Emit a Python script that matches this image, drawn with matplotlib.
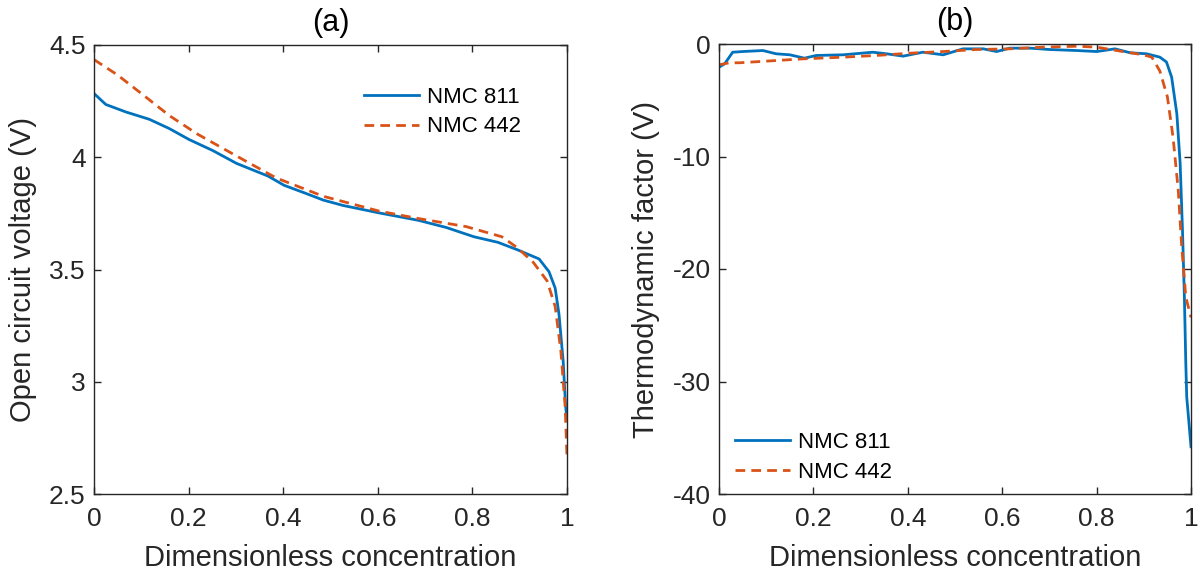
import matplotlib
matplotlib.use("Agg")
import matplotlib.pyplot as plt
import numpy as np

plt.rcParams['font.family'] = ['Liberation Sans', 'DejaVu Sans']

# Panel (a): open circuit voltage
x811_a = [0.0, 0.025, 0.067, 0.117, 0.159, 0.201, 0.251, 0.301, 0.368, 0.402, 0.444, 0.485, 0.527,
          0.603, 0.686, 0.745, 0.803, 0.854, 0.895, 0.941, 0.962, 0.975, 0.983, 0.992, 0.997, 1.0]
v811_a = [4.284, 4.235, 4.202, 4.169, 4.128, 4.079, 4.030, 3.973, 3.916, 3.875, 3.842, 3.809, 3.785,
          3.752, 3.719, 3.687, 3.646, 3.621, 3.588, 3.547, 3.490, 3.417, 3.302, 3.089, 2.893, 2.83]
x442_a = [0.0, 0.050, 0.100, 0.159, 0.218, 0.301, 0.385, 0.485, 0.603, 0.686, 0.787, 0.862, 0.895,
          0.929, 0.958, 0.975, 0.987, 0.996, 1.0]
v442_a = [4.435, 4.366, 4.284, 4.186, 4.104, 4.006, 3.908, 3.826, 3.760, 3.727, 3.691, 3.646, 3.597,
          3.531, 3.449, 3.335, 3.138, 2.893, 2.664]

# Panel (b): thermodynamic factor
x811_b = [0.0, 0.012, 0.029, 0.05, 0.093, 0.121, 0.150, 0.181, 0.206, 0.263, 0.326, 0.355, 0.39,
          0.432, 0.475, 0.517, 0.56, 0.588, 0.616, 0.659, 0.70, 0.758, 0.80, 0.839, 0.871, 0.906,
          0.934, 0.948, 0.959, 0.970, 0.977, 0.982, 0.986, 0.989, 0.991, 1.0]
t811_b = [-2.06, -1.76, -0.73, -0.67, -0.58, -0.87, -0.96, -1.26, -1.02, -0.96, -0.73, -0.87, -1.08,
          -0.73, -0.96, -0.43, -0.43, -0.67, -0.37, -0.37, -0.49, -0.58, -0.67, -0.43, -0.78, -0.87,
          -1.17, -1.6, -2.95, -6.2, -10.6, -16.6, -22.5, -28.4, -31.4, -35.8]
x442_b = [0.0, 0.022, 0.043, 0.121, 0.178, 0.263, 0.333, 0.404, 0.475, 0.545, 0.616, 0.687, 0.758,
          0.80, 0.864, 0.899, 0.917, 0.934, 0.950, 0.962, 0.973, 0.980, 0.989, 1.0]
t442_b = [-1.85, -1.67, -1.67, -1.47, -1.32, -1.17, -1.02, -0.82, -0.67, -0.49, -0.43, -0.28, -0.2,
          -0.28, -0.73, -0.96, -1.17, -2.4, -4.7, -8.3, -13.0, -17.8, -22.5, -24.3]

labels = ["NMC 811", "NMC 442"]
blue = "#0072BD"
orange = "#D95319"
axcol = "#262626"

fig = plt.figure(figsize=(12, 5.78), dpi=100)
ax1 = fig.add_axes([94/1200, 1-494/578, (567-94)/1200, (494-45)/578])
ax2 = fig.add_axes([719/1200, 1-494/578, (1191-719)/1200, (494-44)/578])

ax1.plot(x811_a, v811_a, color=blue, lw=2.0, label=labels[0])
ax1.plot(x442_a, v442_a, color=orange, lw=2.0, ls=(0, (3.5, 2.2)), label=labels[1])
ax1.set_xlim(0, 1)
ax1.set_ylim(2.5, 4.5)
ax1.set_yticks([2.5, 3, 3.5, 4, 4.5])
ax1.set_yticklabels(["2.5", "3", "3.5", "4", "4.5"])
ax1.set_xticks([0, 0.2, 0.4, 0.6, 0.8, 1])
ax1.set_xticklabels(["0", "0.2", "0.4", "0.6", "0.8", "1"])
ax1.set_xlabel("Dimensionless concentration", fontsize=21, color=axcol, labelpad=10)
ax1.set_ylabel("Open circuit voltage (V)", fontsize=21, color=axcol, labelpad=9)
ax1.set_title("(a)", fontsize=22, color='black', pad=10)
ax1.legend(loc='upper right', frameon=False, fontsize=16, handlelength=2.5, handletextpad=0.35,
           bbox_to_anchor=(0.936, 0.942), borderaxespad=0.3, labelspacing=0.4)

ax2.plot(x811_b, t811_b, color=blue, lw=2.0, label=labels[0])
ax2.plot(x442_b, t442_b, color=orange, lw=2.0, ls=(0, (3.5, 2.2)), label=labels[1])
ax2.set_xlim(0, 1)
ax2.set_ylim(-40, 0)
ax2.set_yticks([-40, -30, -20, -10, 0])
ax2.set_yticklabels(["-40", "-30", "-20", "-10", "0"])
ax2.set_xticks([0, 0.2, 0.4, 0.6, 0.8, 1])
ax2.set_xticklabels(["0", "0.2", "0.4", "0.6", "0.8", "1"])
ax2.set_xlabel("Dimensionless concentration", fontsize=21, color=axcol, labelpad=10)
ax2.set_ylabel("Thermodynamic factor (V)", fontsize=21, color=axcol, labelpad=9)
ax2.set_title("(b)", fontsize=22, color='black', pad=10)
ax2.legend(loc='lower left', frameon=False, fontsize=16, handlelength=2.5, handletextpad=0.35,
           bbox_to_anchor=(0.0, -0.01), borderaxespad=0.3, labelspacing=0.4)

for ax in (ax1, ax2):
    for s in ax.spines.values():
        s.set_color(axcol)
        s.set_linewidth(1.0)
    ax.tick_params(direction='in', top=True, right=True, length=5, width=1.0,
                   color=axcol, labelcolor=axcol, labelsize=19)
    ax.tick_params(axis='x', pad=9)
    ax.tick_params(axis='y', pad=6)

fig.savefig("out.png", dpi=100, facecolor='white')
